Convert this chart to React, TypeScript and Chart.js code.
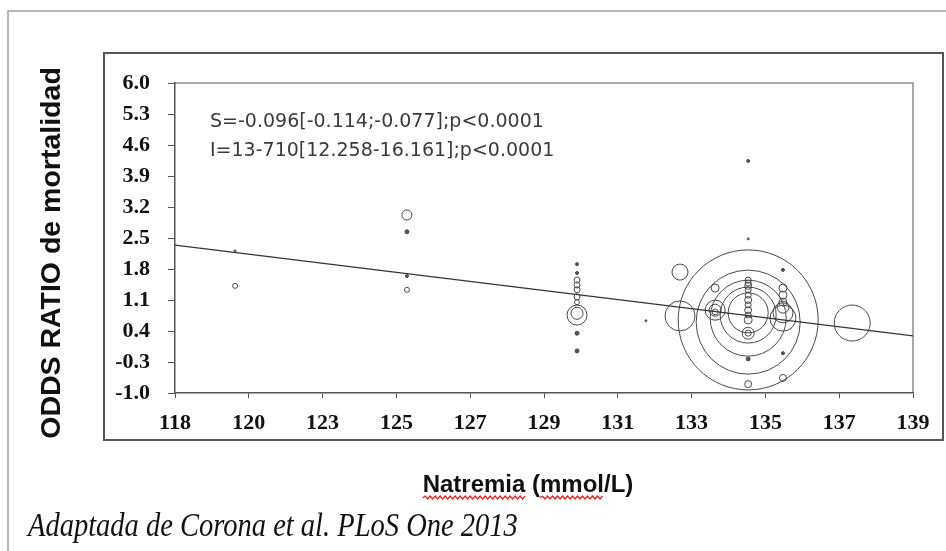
import React, { useEffect, useRef } from 'react';
import { Chart, registerables } from 'chart.js';

Chart.register(...registerables);

const W = 946;
const H = 551;

const X_MIN = 118;
const X_MAX = 139;
const xTickLabels = ['118', '120', '123', '125', '127', '129', '131', '133', '135', '137', '139'];
const yTickValues = [-1.0, -0.3, 0.4, 1.1, 1.8, 2.5, 3.2, 3.9, 4.6, 5.3, 6.0];

// Bubble data (x = natremia, y = odds ratio, r = bubble radius in px)
const bubbleX = [
  119.71, 119.71,
  124.6, 124.6, 124.6, 124.6,
  129.44, 129.44, 129.44, 129.44, 129.44, 129.44, 129.44, 129.44, 129.44, 129.44, 129.44,
  131.4,
  132.37, 132.37,
  133.37, 133.37, 133.37, 133.37,
  134.31, 134.31, 134.31, 134.31, 134.31, 134.31, 134.31,
  134.31, 134.31, 134.31, 134.31, 134.31, 134.31, 134.31, 134.31, 134.31, 134.31, 134.31, 134.31, 134.31, 134.31,
  135.3, 135.3, 135.3, 135.3, 135.3, 135.3, 135.3, 135.3, 135.3,
  137.27,
];
const bubbleY = [
  2.21, 1.42,
  3.02, 2.64, 1.64, 1.33,
  1.91, 1.71, 1.55, 1.44, 1.33, 1.17, 1.05, 0.76, 0.8, 0.35, -0.05,
  0.63,
  1.73, 0.74,
  1.37, 0.87, 0.87, 0.83,
  4.24, 2.48, 0.65, 0.6, 0.69, 0.76, 0.81,
  1.55, 1.48, 1.42, 1.33, 1.21, 1.1, 0.99, 0.87, 0.76, 0.65, 0.35, 0.35, -0.23, -0.8,
  1.78, 1.37, 1.21, 1.05, 0.94, 0.81, 0.69, -0.1, -0.66,
  0.58,
];
const bubbleR = [
  1, 2.5,
  5, 2, 1.5, 2.5,
  1.5, 1.5, 3, 3, 3, 3, 2.5, 10, 6, 2, 2,
  1,
  8, 15,
  4, 10, 6, 3,
  1.5, 1, 70, 52, 38, 28, 20,
  3, 3, 3.5, 3, 3, 3.5, 3, 3.5, 3, 4, 6, 3, 2, 3.5,
  1.5, 4, 4, 4, 6, 10, 13, 1.5, 3.5,
  18,
];

// Regression line end points
const fitX = [118, 139];
const fitY = [2.34, 0.29];

const statLines = [
  'S=-0.096[-0.114;-0.077];p<0.0001',
  'I=13-710[12.258-16.161];p<0.0001',
];
const yTitle = 'ODDS RATIO de mortalidad';
const xTitleWords = ['Natremia', ' (', 'mmol', '/L)'];
const caption = 'Adaptada de Corona et al. PLoS One 2013';

function wave(ctx: CanvasRenderingContext2D, x0: number, x1: number, y: number) {
  ctx.beginPath();
  let up = true;
  ctx.moveTo(x0, y);
  for (let x = x0 + 2.5; x <= x1; x += 2.5) {
    ctx.lineTo(x, up ? y - 2 : y + 1);
    up = !up;
  }
  ctx.stroke();
}

const decor = {
  id: 'decor',
  beforeDraw(chart: any) {
    const ctx: CanvasRenderingContext2D = chart.ctx;
    ctx.save();
    ctx.fillStyle = '#ffffff';
    ctx.fillRect(0, 0, W, H);
    // outer frame
    ctx.strokeStyle = '#a0a0a0';
    ctx.lineWidth = 1.5;
    ctx.beginPath();
    ctx.moveTo(8, H);
    ctx.lineTo(8, 11);
    ctx.lineTo(W, 11);
    ctx.stroke();
    // inner chart box
    ctx.strokeStyle = '#555555';
    ctx.lineWidth = 2;
    ctx.strokeRect(104, 53, 839, 387);
    // plot frame top/right
    const a = chart.chartArea;
    ctx.strokeStyle = '#8c8c8c';
    ctx.lineWidth = 1.5;
    ctx.beginPath();
    ctx.moveTo(a.left, a.top);
    ctx.lineTo(a.right, a.top);
    ctx.lineTo(a.right, a.bottom);
    ctx.stroke();
    ctx.restore();
  },
  afterDraw(chart: any) {
    const ctx: CanvasRenderingContext2D = chart.ctx;
    ctx.save();
    // statistics text
    ctx.font = '19px "DejaVu Sans"';
    ctx.fillStyle = '#3a3a3a';
    ctx.textAlign = 'left';
    ctx.textBaseline = 'middle';
    ctx.fillText(statLines[0], 210, 122);
    ctx.fillText(statLines[1], 210, 151);

    // y title
    ctx.save();
    ctx.translate(52, 253);
    ctx.rotate(-Math.PI / 2);
    ctx.font = 'bold 28.5px "Liberation Sans"';
    ctx.fillStyle = '#111111';
    ctx.textAlign = 'center';
    ctx.textBaseline = 'middle';
    ctx.fillText(yTitle, 0, 0);
    ctx.restore();

    // x title with spell-check squiggles
    ctx.font = 'bold 24px "Liberation Sans"';
    ctx.fillStyle = '#111111';
    ctx.textBaseline = 'alphabetic';
    ctx.textAlign = 'left';
    const full = xTitleWords.join('');
    const total = ctx.measureText(full).width;
    let x = 528 - total / 2;
    const base = 492;
    ctx.fillText(full, x, base);
    ctx.strokeStyle = '#e02020';
    ctx.lineWidth = 1.2;
    xTitleWords.forEach((w, i) => {
      const wd = ctx.measureText(w).width;
      if (i === 0 || i === 2) wave(ctx, x, x + wd, base + 6);
      x += wd;
    });

    // caption
    ctx.save();
    ctx.translate(28, 527);
    ctx.scale(0.95, 1.1);
    ctx.font = 'italic 30px "Liberation Serif"';
    ctx.fillStyle = '#111111';
    ctx.textBaseline = 'middle';
    ctx.fillText(caption, 0, 0);
    ctx.restore();
    ctx.restore();
  },
};

export default function App() {
  const ref = useRef<HTMLCanvasElement | null>(null);

  useEffect(() => {
    if (!ref.current) return;
    const bubbles = bubbleX.map((x, i) => ({ x, y: bubbleY[i], r: bubbleR[i] }));
    const fit = fitX.map((x, i) => ({ x, y: fitY[i] }));
    const chart = new Chart(ref.current, {
      type: 'bubble',
      data: {
        datasets: [
          {
            type: 'line',
            data: fit,
            borderColor: '#333333',
            borderWidth: 1.2,
            pointRadius: 0,
            fill: false,
          } as any,
          {
            type: 'bubble',
            data: bubbles,
            borderColor: '#4a4a4a',
            borderWidth: 1,
            backgroundColor: (c: any) => ((c.raw && c.raw.r <= 2) ? '#555555' : 'rgba(0,0,0,0)'),
            hoverRadius: 0,
          } as any,
        ],
      },
      options: {
        animation: false,
        responsive: false,
        events: [],
        layout: { autoPadding: false, padding: { left: 0, top: 83, right: 33, bottom: 0 } },
        plugins: {
          legend: { display: false },
          tooltip: { enabled: false },
        },
        scales: {
          x: {
            type: 'linear',
            min: X_MIN,
            max: X_MAX,
            afterFit: (s: any) => { s.height = H - 393; s.paddingLeft = 0; s.paddingRight = 0; },
            afterBuildTicks: (s: any) => {
              s.ticks = xTickLabels.map((_, i) => ({
                value: X_MIN + (i * (X_MAX - X_MIN)) / (xTickLabels.length - 1),
              }));
            },
            grid: { drawOnChartArea: false, drawTicks: true, tickLength: 5, color: '#555555' },
            border: { display: true, color: '#555555', width: 1.5 },
            ticks: {
              autoSkip: false,
              maxRotation: 0,
              padding: 12,
              color: '#111111',
              font: { family: '"Liberation Serif"', size: 22, weight: 'bold' },
              callback: (_v: any, i: number) => xTickLabels[i],
            },
          },
          y: {
            type: 'linear',
            min: -1,
            max: 6,
            afterFit: (s: any) => { s.width = 175; s.paddingTop = 0; s.paddingBottom = 0; },
            afterBuildTicks: (s: any) => {
              s.ticks = yTickValues.map((v) => ({ value: v }));
            },
            grid: { drawOnChartArea: false, drawTicks: true, tickLength: 7, color: '#555555' },
            border: { display: true, color: '#555555', width: 1.5 },
            ticks: {
              autoSkip: false,
              padding: 18,
              color: '#111111',
              font: { family: '"Liberation Serif"', size: 22, weight: 'bold' },
              callback: (v: any) => Number(v).toFixed(1),
            },
          },
        },
      },
      plugins: [decor],
    });
    return () => chart.destroy();
  }, []);

  return (
    <div style={{ position: 'absolute', left: 0, top: 0, width: W, height: H, background: '#fff' }}>
      <canvas ref={ref} width={W} height={H} style={{ display: 'block', width: W, height: H }} />
    </div>
  );
}
